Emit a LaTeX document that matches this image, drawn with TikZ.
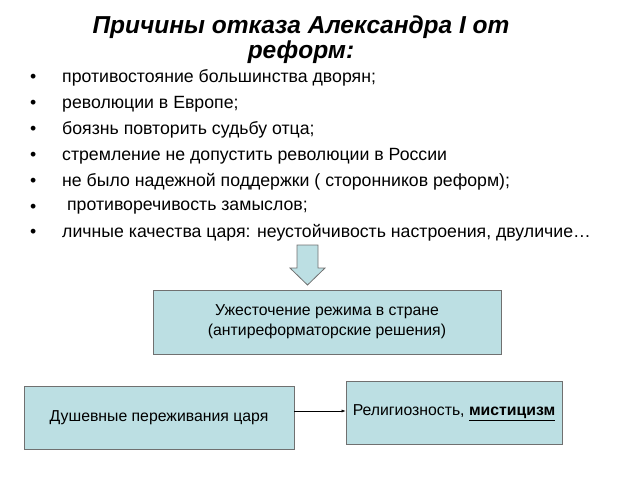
\documentclass[tikz,border=0pt]{standalone}
\usepackage{fontspec}
\setmainfont{Liberation Sans}
\definecolor{boxfill}{HTML}{BCDFE3}
\definecolor{boxline}{HTML}{707070}
\usetikzlibrary{arrows.meta}

\begin{document}
\begin{tikzpicture}[
  x=1pt, y=-1pt,
  box/.style={draw=boxline, fill=boxfill, line width=0.8pt, inner sep=2pt, align=center, font=\fontsize{15.8}{20}\selectfont},
  item/.style={anchor=west, inner sep=0pt, font=\fontsize{17.7}{21}\selectfont},
]
  \useasboundingbox (0,0) rectangle (640,480);

  \node[font=\fontsize{24.5}{25}\selectfont\bfseries\itshape, align=center] (title) at (301,40)
    {Причины отказа Александра I от\\реформ:};

  \foreach \y/\t in {78/{противостояние большинства дворян;},
                     104/{революции в Европе;},
                     130/{боязнь повторить судьбу отца;},
                     156/{стремление не допустить революции в России},
                     182/{не было надежной поддержки ( сторонников реформ);},
                     208/{\ противоречивость замыслов;},
                     233/{личные качества царя: неустойчивость настроения, двуличие…}} {
    \node[item] at (30,\y) {•};
    \node[item] at (62,\y) {\t};
  }

  % down arrow
  \draw[draw=boxline, fill=boxfill, line width=0.8pt]
    (297,245) -- (318,245) -- (318,268) -- (325,268) -- (307.5,285)
    -- (290,268) -- (297,268) -- cycle;

  \node[box, minimum width=348pt, minimum height=64pt] (strict) at (327,322)
    {Ужесточение режима в стране\\(антиреформаторские решения)};
  \node[box, minimum width=216pt, minimum height=63pt] (relig) at (454,412.5)
    {Религиозность, \textbf{\underline{мистицизм}}};
  \node[box, minimum width=270pt, minimum height=63pt] (soul) at (159,417.5)
    {Душевные переживания царя};

  \draw[-{Latex[length=4pt,width=3pt]}, line width=0.5pt]
    ([yshift=6.5pt]soul.east) -- ([yshift=1.5pt]relig.west);
\end{tikzpicture}
\end{document}
